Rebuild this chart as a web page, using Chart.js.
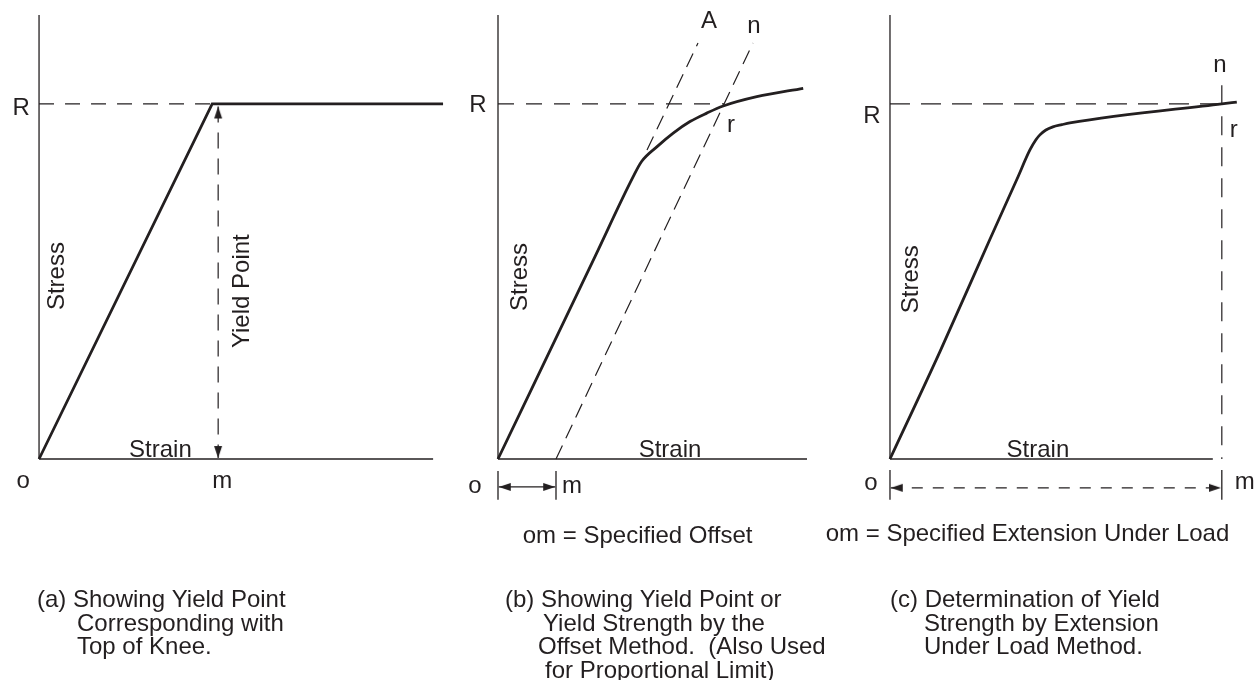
<!DOCTYPE html>
<html>
<head>
<meta charset="utf-8">
<script src="https://cdn.jsdelivr.net/npm/chart.js@4/dist/chart.umd.min.js"></script>
<style>
  html, body { margin: 0; padding: 0; background: #fff; }
  #sheet { position: relative; width: 1257px; height: 680px; overflow: hidden; }
  #sheet canvas { position: absolute; left: 0; top: 0; }
</style>
</head>
<body>
<div id="sheet">
  <canvas id="chart-a" width="1257" height="680"></canvas>
  <canvas id="chart-b" width="1257" height="680"></canvas>
  <canvas id="chart-c" width="1257" height="680"></canvas>
</div>
<script>
const W = 1257, H = 680;
const INK = '#231f20';
const FONT = '24px "Liberation Sans", Arial, Helvetica, sans-serif';

// stress level R and the top of the stress axis (same in the three sketches)
const stressR = 80;
const stressTop = 100;

// (a) yield point at the top of the knee
const aStrain = [0, 43.5, 101.5];
const aStress = [0, 80, 80];
const aKnee = 43.5;
const aYieldM = 45;
const aAxisEnd = 99;

// (b) offset method
const bStrain = [0, 24.25, 33.8, 35.9, 39.7, 43.8, 48, 52.2, 56.3, 64.7, 76.3];
const bStress = [0, 45.6, 63.6, 67.0, 70.3, 73.4, 76.0, 77.9, 79.5, 81.6, 83.5];
const bOffsetStrain = [14.5, 63.75];   // m -> n, parallel to the elastic part
const bOffsetStress = [0, 93.7];
const bTangentStrain = [37.25, 50];    // line A
const bTangentStress = [69.6, 93.7];
const bRStrain = 56.5;                 // r, where mn cuts the curve
const bAxisEnd = 77.25;

// (c) extension under load
const cStrain = [0, 12.5, 25, 31.75, 35, 36.5, 37.5, 39, 40.75, 43, 45, 83, 86.75];
const cStress = [0, 24.2, 49.5, 63, 69.6, 71.9, 73, 74.1, 74.8, 75.3, 75.7, 80, 80.4];
const cExtension = 83;                 // om
const cExtTop = 84.2;
const cAxisEnd = 80.75;

const pts = (xs, ys) => xs.map((x, i) => ({ x, y: ys[i] }));
const seg = (x1, y1, x2, y2) => [{ x: x1, y: y1 }, { x: x2, y: y2 }];

// narrow arrow head, tip in the middle of the image so it lands on the point
function makeHead(len, width) {
  const c = document.createElement('canvas');
  c.width = Math.ceil(width) + 2;
  c.height = len * 2 + 2;
  const g = c.getContext('2d');
  const cx = c.width / 2, cy = c.height / 2;
  g.fillStyle = INK;
  g.beginPath();
  g.moveTo(cx, cy);
  g.lineTo(cx + width / 2, cy + len);
  g.lineTo(cx - width / 2, cy + len);
  g.closePath();
  g.fill();
  return c;
}
const head = makeHead(12, 8);

function solid(data, width) {
  return { data, showLine: true, borderColor: INK, borderWidth: width, pointRadius: 0, tension: 0, clip: false };
}
function dashed(data, dash, width = 1.2) {
  return { ...solid(data, width), borderDash: dash };
}
function curve(data) {
  return { ...solid(data, 2.8), cubicInterpolationMode: 'monotone' };
}
// rotations: one per point, null = no head
function withHeads(ds, rotations) {
  return {
    ...ds,
    pointStyle: head,
    pointRadius: (c) => rotations[c.dataIndex] == null ? 0 : 6,
    pointRotation: (c) => rotations[c.dataIndex] || 0
  };
}
function axes(axisEnd) {
  return [solid(seg(0, 0, 0, stressTop), 1.3), solid(seg(0, 0, axisEnd, 0), 1.3)];
}

function textPlugin(labels, caption) {
  return {
    id: 'sketchText',
    afterDatasetsDraw(chart) {
      const { ctx, scales: { x, y } } = chart;
      ctx.save();
      ctx.fillStyle = INK;
      ctx.font = FONT;
      ctx.textBaseline = 'alphabetic';
      labels.forEach((l) => {
        ctx.save();
        ctx.translate(x.getPixelForValue(l.x), y.getPixelForValue(l.y));
        if (l.vertical) ctx.rotate(-Math.PI / 2);
        ctx.textAlign = l.align || 'center';
        ctx.fillText(l.text, 0, 0);
        ctx.restore();
      });
      ctx.textAlign = 'left';
      caption.lines.forEach(([left, text], i) => {
        ctx.fillText(text, left, caption.top + i * caption.step);
      });
      ctx.restore();
    }
  };
}

function panel(id, frame, datasets, labels, caption) {
  const { ox, oy, sx, sy, xMin, xMax, yMin } = frame;
  return new Chart(document.getElementById(id), {
    type: 'scatter',
    data: { datasets },
    options: {
      responsive: false,
      animation: false,
      events: [],
      devicePixelRatio: 1,
      layout: {
        padding: {
          left: ox + xMin * sx,
          right: W - (ox + xMax * sx),
          top: oy - stressTop * sy,
          bottom: H - (oy - yMin * sy)
        }
      },
      scales: {
        x: { type: 'linear', min: xMin, max: xMax, display: false },
        y: { type: 'linear', min: yMin, max: stressTop, display: false }
      },
      plugins: { legend: { display: false }, tooltip: { enabled: false } }
    },
    plugins: [textPlugin(labels, caption)]
  });
}

const SY = 4.44;

// (a)
panel('chart-a',
  { ox: 37, oy: 459, sx: 4, sy: SY, xMin: -8, xMax: 104, yMin: -30 },
  [
    ...axes(aAxisEnd),
    dashed(seg(0, stressR, aKnee, stressR), [15, 11]),
    withHeads(dashed(seg(aYieldM, stressR - 0.6, aYieldM, 0.2), [16, 10]), [0, 180]),
    solid(pts(aStrain, aStress), 2.8)
  ],
  [
    { text: 'R', x: -4.5, y: 77.5 },
    { text: 'o', x: -4, y: -6.5 },
    { text: 'm', x: 46, y: -6.5 },
    { text: 'Strain', x: 30.5, y: 0.45 },
    { text: 'Stress', x: 6.25, y: 41.2, vertical: true },
    { text: 'Yield Point', x: 52.75, y: 37.8, vertical: true }
  ],
  { top: 607, step: 23.5, lines: [[37, '(a) Showing Yield Point'], [77, 'Corresponding with'], [77, 'Top of Knee.']] }
);

// (b)
panel('chart-b',
  { ox: 498, oy: 459, sx: 4, sy: SY, xMin: -8, xMax: 80, yMin: -30 },
  [
    ...axes(bAxisEnd),
    dashed(seg(0, stressR, bRStrain, stressR), [16, 12]),
    dashed(pts(bOffsetStrain, bOffsetStress), [15, 8]),
    dashed(pts(bTangentStrain, bTangentStress), [15, 8]),
    solid(seg(0, -2.7, 0, -9.2), 1.3),
    solid(seg(bOffsetStrain[0], -2.7, bOffsetStrain[0], -9.2), 1.3),
    withHeads(solid(seg(0.2, -6.3, bOffsetStrain[0] - 0.2, -6.3), 1.2), [-90, 90]),
    curve(pts(bStrain, bStress))
  ],
  [
    { text: 'R', x: -5, y: 78.15 },
    { text: 'A', x: 52.75, y: 97.07 },
    { text: 'n', x: 64, y: 95.9 },
    { text: 'r', x: 58.25, y: 73.6 },
    { text: 'Stress', x: 7.25, y: 41, vertical: true },
    { text: 'Strain', x: 43, y: 0.45 },
    { text: 'o', x: -5.75, y: -7.66 },
    { text: 'm', x: 16, y: -7.66, align: 'left' },
    { text: 'om = Specified Offset', x: 34.9, y: -18.9 }
  ],
  { top: 607, step: 23.5, lines: [[505, '(b) Showing Yield Point or'], [543, 'Yield Strength by the'], [538, 'Offset Method.  (Also Used'], [545, 'for Proportional Limit)']] }
);

// (c)
panel('chart-c',
  { ox: 890, oy: 459, sx: 4, sy: SY, xMin: -8, xMax: 90, yMin: -30 },
  [
    ...axes(cAxisEnd),
    dashed(seg(0, stressR, cExtension, stressR), [20, 11]),
    dashed(seg(cExtension, cExtTop, cExtension, 0), [19, 12]),
    solid(seg(0, -2.5, 0, -9.2), 1.3),
    solid(seg(cExtension, -2.5, cExtension, -9.2), 1.3),
    withHeads(dashed(seg(0.2, -6.5, cExtension - 0.2, -6.5), [11, 10]), [-90, 90]),
    curve(pts(cStrain, cStress))
  ],
  [
    { text: 'R', x: -4.5, y: 75.7 },
    { text: 'n', x: 82.5, y: 87.2 },
    { text: 'r', x: 86, y: 72.5 },
    { text: 'Stress', x: 7, y: 40.5, vertical: true },
    { text: 'Strain', x: 37, y: 0.45 },
    { text: 'o', x: -4.75, y: -7 },
    { text: 'm', x: 86.25, y: -6.75, align: 'left' },
    { text: 'om = Specified Extension Under Load', x: 34.4, y: -18.5 }
  ],
  { top: 607, step: 23.5, lines: [[890, '(c) Determination of Yield'], [924, 'Strength by Extension'], [924, 'Under Load Method.']] }
);
</script>
</body>
</html>
